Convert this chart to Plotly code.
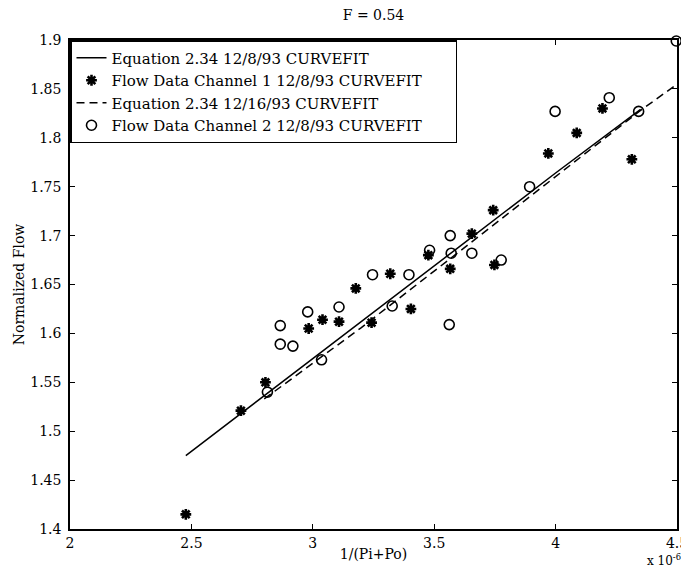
import plotly.graph_objects as go

# ---- data (x in units of 1e-6) ----
ch1_x = [2.477, 2.704, 2.805, 2.983, 3.040, 3.108, 3.177, 3.242, 3.319, 3.404,
         3.476, 3.566, 3.655, 3.743, 3.748, 3.970, 4.087, 4.193, 4.314]
ch1_y = [1.415, 1.521, 1.550, 1.605, 1.614, 1.612, 1.646, 1.611, 1.661, 1.625,
         1.680, 1.666, 1.702, 1.726, 1.670, 1.784, 1.805, 1.830, 1.778]

ch2_x = [2.813, 2.866, 2.866, 2.918, 2.979, 3.036, 3.108, 3.246, 3.327, 3.396,
         3.481, 3.562, 3.566, 3.570, 3.655, 3.776, 3.893, 3.998, 4.221, 4.342, 4.497]
ch2_y = [1.540, 1.608, 1.589, 1.587, 1.622, 1.573, 1.627, 1.660, 1.628, 1.660,
         1.685, 1.609, 1.700, 1.682, 1.682, 1.675, 1.750, 1.827, 1.841, 1.827, 1.899]

eq_a_x = [2.477, 2.80, 3.20, 3.60, 4.00, 4.35]
eq_a_y = [1.475, 1.536, 1.612, 1.688, 1.764, 1.829]

eq_b_x = [2.80, 3.20, 3.60, 4.00, 4.35, 4.49]
eq_b_y = [1.533, 1.606, 1.683, 1.760, 1.828, 1.853]

x_ticks = [2, 2.5, 3, 3.5, 4, 4.5]
x_labels = ["2", "2.5", "3", "3.5", "4", "4.5"]
y_ticks = [1.4, 1.45, 1.5, 1.55, 1.6, 1.65, 1.7, 1.75, 1.8, 1.85, 1.9]
y_labels = ["1.4", "1.45", "1.5", "1.55", "1.6", "1.65", "1.7", "1.75", "1.8", "1.85", "1.9"]

FONT = "DejaVu Serif"
PAD = "\u00a0" * 6

fig = go.Figure()
fig.add_trace(go.Scatter(x=eq_a_x, y=eq_a_y, mode="lines",
                         line=dict(color="black", width=1.5),
                         name="Equation 2.34 12/8/93 CURVEFIT"))
fig.add_trace(go.Scatter(x=ch1_x, y=ch1_y, mode="markers",
                         marker=dict(symbol="asterisk-open", size=9, color="black",
                                     line=dict(color="black", width=2.6)),
                         name="Flow Data Channel 1 12/8/93 CURVEFIT" + PAD))
fig.add_trace(go.Scatter(x=eq_b_x, y=eq_b_y, mode="lines",
                         line=dict(color="black", width=1.5, dash="8px,5px"),
                         name="Equation 2.34 12/16/93 CURVEFIT"))
fig.add_trace(go.Scatter(x=ch2_x, y=ch2_y, mode="markers", cliponaxis=False,
                         marker=dict(symbol="circle-open", size=10, color="black",
                                     line=dict(color="black", width=1.6)),
                         name="Flow Data Channel 2 12/8/93 CURVEFIT"))

axis_common = dict(showgrid=False, zeroline=False, showline=True, mirror="ticks",
                   linecolor="black", linewidth=1.5, ticks="inside", ticklen=5,
                   tickcolor="black", tickwidth=1.2, ticklabeloverflow="allow",
                   tickfont=dict(family=FONT, size=14, color="black"))

fig.update_layout(
    width=689, height=569,
    margin=dict(l=62, r=9, t=32, b=48),
    paper_bgcolor="white", plot_bgcolor="white",
    font=dict(family=FONT, size=14, color="black"),
    title=dict(text="F = 0.54", xref="paper", x=0.5, xanchor="center",
               y=0.987, yanchor="middle",
               font=dict(family=FONT, size=14, color="black")),
    xaxis=dict(range=[2, 4.5], tickvals=x_ticks, ticktext=x_labels,
               title=dict(text="1/(Pi+Po)", standoff=0,
                          font=dict(family=FONT, size=14)), **axis_common),
    yaxis=dict(range=[1.4, 1.9], tickvals=y_ticks, ticktext=y_labels,
               ticklabelstandoff=4,
               title=dict(text="Normalized Flow", standoff=2,
                          font=dict(family=FONT, size=14)), **axis_common),
    legend=dict(x=0, y=1, xanchor="left", yanchor="top",
                bgcolor="white", bordercolor="black", borderwidth=1.5,
                font=dict(family=FONT, size=15, color="black"),
                tracegroupgap=0),
    showlegend=True,
)

fig.add_annotation(text="x 10<sup>-6</sup>", xref="paper", yref="paper",
                   x=1.01, y=-0.064, xanchor="right", yanchor="middle", showarrow=False,
                   font=dict(family=FONT, size=12, color="black"))

fig.write_html("out.html")
